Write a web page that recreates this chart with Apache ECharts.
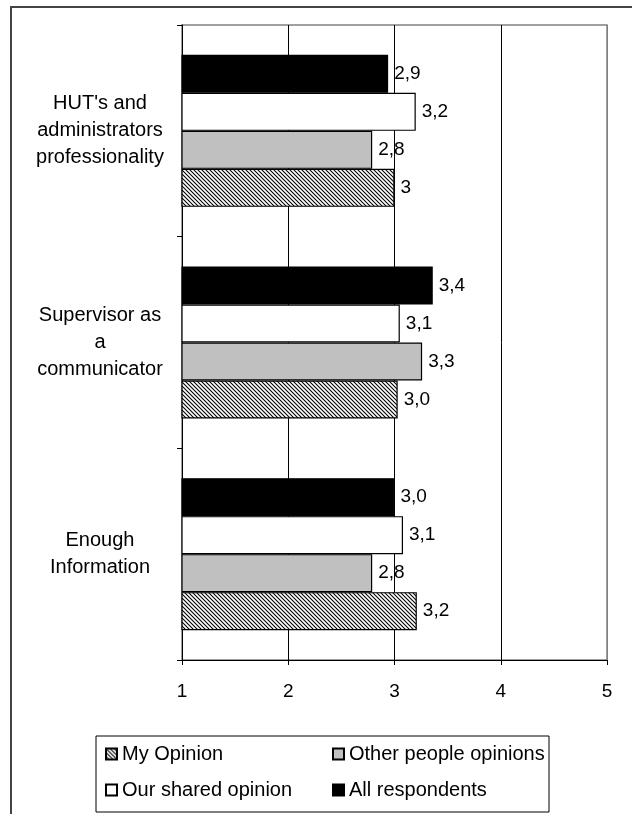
<!DOCTYPE html>
<html>
<head>
<meta charset="utf-8">
<script src="https://cdn.jsdelivr.net/npm/echarts@6/dist/echarts.min.js"></script>
<style>
  html, body { margin: 0; padding: 0; background: #fff; }
  #chart { width: 632px; height: 814px; }
</style>
</head>
<body>
<div id="chart"></div>
<script>
// categories, bottom to top on the y axis
const categories = ["Enough\nInformation", "Supervisor as\na\ncommunicator", "HUT's and\nadministrators\nprofessionality"];
const seriesNames = ['My Opinion', 'Other people opinions', 'Our shared opinion', 'All respondents'];

const myOpinion = [3.21, 3.03, 3.0];
const myOpinionLabels = ['3,2', '3,0', '3'];
const otherOpinions = [2.79, 3.26, 2.79];
const otherLabels = ['2,8', '3,3', '2,8'];
const sharedOpinion = [3.08, 3.05, 3.2];
const sharedLabels = ['3,1', '3,1', '3,2'];
const allRespondents = [3.0, 3.36, 2.94];
const allLabels = ['3,0', '3,4', '2,9'];

const xMin = 1, xMax = 5, xStep = 1;

const FONT = "'Liberation Sans', Arial, sans-serif";

// diagonal hatch for "My Opinion"
function hatch() {
    const n = 4;
    const c = document.createElement('canvas');
    c.width = c.height = n;
    const g = c.getContext('2d');
    g.fillStyle = '#fff';
    g.fillRect(0, 0, n, n);
    g.strokeStyle = '#000';
    g.lineWidth = 1.1;
    g.beginPath();
    [-n, 0, n].forEach(function (k) {
        g.moveTo(k - 1, -1);
        g.lineTo(k + n + 1, n + 1);
    });
    g.stroke();
    return c;
}

function makeBar(name, values, labels, fill) {
    return {
        name: name,
        type: 'bar',
        data: values,
        barWidth: 38,
        barGap: '0%',
        itemStyle: { color: fill, borderColor: '#000', borderWidth: 1.2 },
        label: {
            show: true,
            position: 'right',
            distance: 6,
            color: '#000',
            fontSize: 19,
            fontFamily: FONT,
            formatter: function (p) { return labels[p.dataIndex]; }
        },
        emphasis: { disabled: true }
    };
}

let $e = echarts.init(document.getElementById('chart'), null, { renderer: 'canvas' });

let option = {
    animation: false,
    textStyle: { fontFamily: FONT },
    graphic: [
        { type: 'line', shape: { x1: 10, y1: 7, x2: 632, y2: 7 }, style: { stroke: '#444', lineWidth: 2 } },
        { type: 'line', shape: { x1: 11, y1: 7, x2: 11, y2: 814 }, style: { stroke: '#444', lineWidth: 2 } }
    ],
    grid: {
        left: 182, right: 25, top: 25, bottom: 154,
        show: true, borderColor: '#808080', borderWidth: 1.5
    },
    legend: {
        data: seriesNames,
        left: 96,
        top: 736,
        width: 445,
        orient: 'horizontal',
        itemWidth: 11,
        itemHeight: 11,
        itemGap: 12,
        padding: [6, 2, 10, 9],
        borderColor: '#000',
        borderWidth: 1,
        icon: 'rect',
        selectedMode: false,
        textStyle: { fontSize: 20, color: '#000', width: 198, lineHeight: 24, fontFamily: FONT }
    },
    xAxis: {
        type: 'value',
        min: xMin,
        max: xMax,
        interval: xStep,
        axisLine: { show: true, lineStyle: { color: '#000', width: 1 } },
        axisTick: { show: true, length: 5, lineStyle: { color: '#000' } },
        axisLabel: { color: '#000', fontSize: 19, margin: 22, fontFamily: FONT },
        splitLine: { show: true, lineStyle: { color: ['#000', '#000', '#000', '#000', '#808080'], width: 1 } }
    },
    yAxis: {
        type: 'category',
        data: categories,
        axisLine: { show: true, lineStyle: { color: '#000', width: 1 } },
        axisTick: { show: true, length: 5, lineStyle: { color: '#000' } },
        axisLabel: { color: '#000', fontSize: 20, lineHeight: 27, align: 'center', margin: 82, fontFamily: FONT },
        splitLine: { show: false }
    },
    // first series is drawn on top of each group, so black comes first
    series: [
        makeBar(seriesNames[3], allRespondents, allLabels, '#000'),
        makeBar(seriesNames[2], sharedOpinion, sharedLabels, '#fff'),
        makeBar(seriesNames[1], otherOpinions, otherLabels, '#c0c0c0'),
        makeBar(seriesNames[0], myOpinion, myOpinionLabels, { image: hatch(), repeat: 'repeat' })
    ]
};
$e.setOption(option);
window.onresize = function () {
    $e.resize();
};
</script>
</body>
</html>
